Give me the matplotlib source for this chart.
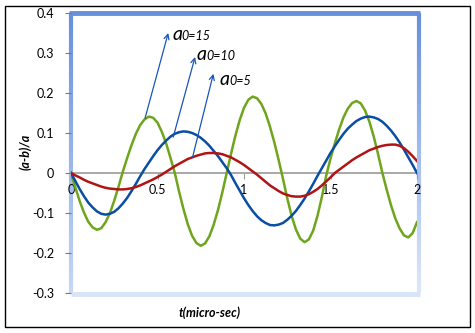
import numpy as np
import matplotlib.pyplot as plt
from matplotlib.collections import LineCollection
from matplotlib.patches import Rectangle
import matplotlib.colors as mcolors

plt.rcParams['font.family'] = ['Lato', 'DejaVu Sans']

# time axis (micro-sec)
t = [i * 0.025 for i in range(81)]

# a0 = 15 (green)
g15 = [0.000, -0.036, -0.070, -0.099, -0.122, -0.136, -0.142, -0.138, -0.123, -0.100,
       -0.069, -0.034, 0.004, 0.038, 0.070, 0.098, 0.120, 0.134, 0.141, 0.138,
       0.126, 0.103, 0.074, 0.038, 0.000, -0.047, -0.090, -0.128, -0.157, -0.175,
       -0.182, -0.176, -0.158, -0.129, -0.092, -0.048, 0.000, 0.048, 0.093, 0.132,
       0.163, 0.183, 0.191, 0.187, 0.173, 0.149, 0.116, 0.077, 0.033, -0.014,
       -0.063, -0.107, -0.141, -0.164, -0.173, -0.166, -0.144, -0.107, -0.060, -0.007,
       0.036, 0.074, 0.109, 0.139, 0.161, 0.175, 0.180, 0.174, 0.156, 0.128,
       0.091, 0.047, 0.000, -0.042, -0.081, -0.114, -0.139, -0.156, -0.161, -0.150,
       -0.123]

# a0 = 10 (blue)
b10 = [0.000, -0.020, -0.040, -0.058, -0.074, -0.086, -0.096, -0.102, -0.104, -0.102,
       -0.097, -0.088, -0.076, -0.062, -0.045, -0.027, -0.008, 0.010, 0.026, 0.042,
       0.057, 0.070, 0.081, 0.091, 0.098, 0.102, 0.104, 0.103, 0.100, 0.095,
       0.088, 0.079, 0.068, 0.055, 0.042, 0.027, 0.012, -0.005, -0.025, -0.044,
       -0.063, -0.080, -0.095, -0.108, -0.118, -0.125, -0.130, -0.131, -0.129, -0.125,
       -0.117, -0.107, -0.095, -0.080, -0.064, -0.046, -0.027, -0.007, 0.012, 0.031,
       0.050, 0.067, 0.083, 0.098, 0.111, 0.121, 0.130, 0.136, 0.140, 0.141,
       0.139, 0.135, 0.128, 0.118, 0.106, 0.092, 0.076, 0.058, 0.039, 0.020,
       0.000]

# a0 = 5 (red)
r5 = [0.000, -0.006, -0.011, -0.017, -0.022, -0.026, -0.030, -0.034, -0.037, -0.039,
      -0.040, -0.041, -0.041, -0.040, -0.038, -0.035, -0.031, -0.026, -0.021, -0.016,
      -0.010, -0.004, 0.003, 0.010, 0.017, 0.023, 0.029, 0.035, 0.039, 0.043,
      0.046, 0.049, 0.050, 0.050, 0.049, 0.047, 0.043, 0.039, 0.033, 0.027,
      0.020, 0.012, 0.004, -0.004, -0.013, -0.022, -0.031, -0.038, -0.045, -0.051,
      -0.055, -0.058, -0.059, -0.059, -0.057, -0.053, -0.047, -0.040, -0.031, -0.021,
      -0.011, 0.000, 0.008, 0.016, 0.024, 0.032, 0.039, 0.045, 0.051, 0.057,
      0.061, 0.065, 0.068, 0.070, 0.071, 0.071, 0.068, 0.062, 0.053, 0.042,
      0.030]

y_ticks = [0.4, 0.3, 0.2, 0.1, 0, -0.1, -0.2, -0.3]
y_tick_labels = ['0.4', '0.3', '0.2', '0.1', '0', '-0.1', '-0.2', '-0.3']
x_ticks = [0, 0.5, 1, 1.5, 2]
x_tick_labels = ['0', '0.5', '1', '1.5', '2']

labels = ['15', '10', '5']
arrow_start = [(0.428, 0.137), (0.591, 0.090), (0.703, 0.040)]
arrow_tip = [(0.562, 0.350), (0.717, 0.290), (0.823, 0.248)]
label_pos = [(0.584, 0.333), (0.728, 0.283), (0.861, 0.220)]

W, H = 475, 333
fig = plt.figure(figsize=(W / 100, H / 100), dpi=100)
fig.patch.set_facecolor('white')
ax = fig.add_axes([71 / W, 1 - 293 / H, (417 - 71) / W, (293 - 13) / H])

ax.plot(t, g15, color='#6fa51c', lw=1.8, zorder=3)
ax.plot(t, b10, color='#0a4ea3', lw=1.8, zorder=3)
ax.plot(t, r5, color='#b01414', lw=1.8, zorder=3)

ax.set_xlim(0, 2)
ax.set_ylim(-0.3, 0.4)

# axes styling (Excel-like)
for s in ['top', 'right', 'left']:
    ax.spines[s].set_visible(False)
ax.spines['bottom'].set_position(('data', 0))
ax.spines['bottom'].set_color('#9a9a9a')
ax.spines['bottom'].set_linewidth(1.2)
ax.spines['bottom'].set_zorder(2)

ax.set_yticks(y_ticks)
ax.set_yticklabels(y_tick_labels)
ax.set_xticks(x_ticks)
ax.set_xticklabels(x_tick_labels)
ax.tick_params(axis='y', length=4, width=0.8, color='#7a7a7a', labelsize=9, pad=8, labelcolor='black')
ax.tick_params(axis='x', length=4, width=0.8, color='#9a9a9a', labelsize=9, pad=4, labelcolor='black')

# gradient frame of the plot area
def grad_line(x0, y0, x1, y1, c0, c1, lw):
    n = 40
    xs = np.linspace(x0, x1, n + 1)
    ys = np.linspace(y0, y1, n + 1)
    segs = [[(xs[i], ys[i]), (xs[i + 1], ys[i + 1])] for i in range(n)]
    cmap = mcolors.LinearSegmentedColormap.from_list('g', [c0, c1])
    cols = [cmap(i / (n - 1)) for i in range(n)]
    lc = LineCollection(segs, colors=cols, linewidths=lw, transform=ax.transAxes,
                        clip_on=False, zorder=1, capstyle='butt')
    ax.add_collection(lc)

blue_top = '#6790dc'
light = '#d9e4f8'
ax.plot([-0.005, 1.008], [1.0, 1.0], color=blue_top, lw=3.5, transform=ax.transAxes,
        clip_on=False, zorder=1, solid_capstyle='butt')
grad_line(0.0, 1.0, 0.0, 0.0, blue_top, '#c6d6f4', 3.0)
grad_line(1.006, 1.0, 1.006, 0.0, blue_top, '#dce6f9', 3.0)
ax.plot([0.0, 1.008], [-0.005, -0.005], color=light, lw=3.5, transform=ax.transAxes,
        clip_on=False, zorder=1, solid_capstyle='butt')

# annotations
for lab, st, tip, lp in zip(labels, arrow_start, arrow_tip, label_pos):
    ax.annotate('', xy=tip, xytext=st,
                arrowprops=dict(arrowstyle='->', color='#1a55b8', lw=0.9,
                                mutation_scale=9, shrinkA=0, shrinkB=0), zorder=4)
    ax.text(lp[0], lp[1], 'a', fontsize=14, style='italic', color='black',
            ha='left', va='baseline', family=['Lato', 'DejaVu Sans'])
    ax.text(lp[0] + 0.052, lp[1], '0=' + lab, fontsize=9, style='italic', color='black',
            ha='left', va='baseline', family=['Lato', 'DejaVu Sans'])

fig.text(25 / W, 1 - 152 / H, '(a-b)/a', rotation=90, fontsize=9, fontweight='bold',
         style='italic', ha='center', va='center')
fig.text(210 / W, 1 - 313 / H, 't(micro-sec)', fontsize=9, fontweight='bold',
         style='italic', ha='center', va='center')

# outer frame
fig.add_artist(Rectangle((4.5 / W, 1 - 327 / H), (470 - 4.5) / W, (327 - 5.5) / H,
                         transform=fig.transFigure, fill=False, ec='black', lw=1.0))

fig.savefig('out.png', dpi=100)
